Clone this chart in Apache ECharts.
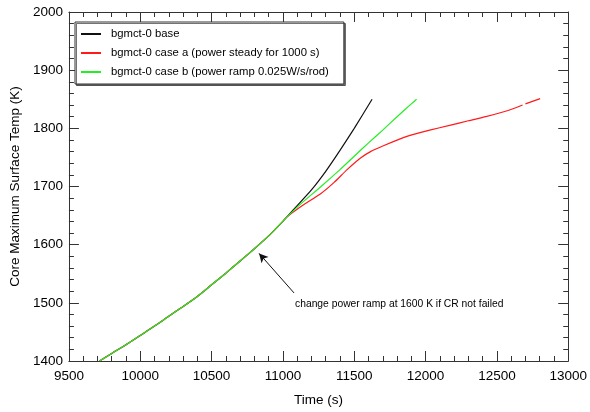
<!DOCTYPE html>
<html>
<head>
<meta charset="utf-8">
<script src="https://cdn.jsdelivr.net/npm/echarts@6/dist/echarts.min.js"></script>
<style>
html,body{margin:0;padding:0;background:#fff;}
#chart{width:590px;height:412px;}
</style>
</head>
<body>
<div id="chart"></div>
<script>
// Shared early part of all three runs (time s, temperature K)
var baseTime = [9715, 9800, 9900, 10000, 10100, 10200, 10290, 10400, 10500, 10600, 10700, 10800, 10900, 11000, 11025];
var baseTemp = [1400, 1413, 1428, 1444, 1460, 1477, 1492, 1511, 1531, 1551, 1572, 1593, 1615, 1640, 1647];

// bgmct-0 base
var baseCaseTime = [11100, 11200, 11300, 11400, 11500, 11625];
var baseCaseTemp = [1667, 1694, 1726, 1762, 1800, 1850];

// bgmct-0 case a
var caseATime = [11129, 11267, 11359, 11450, 11544, 11614, 11704, 11844, 11891, 12029, 12168, 12300, 12422, 12584, 12680, 12690, 12700, 12803];
var caseATemp = [1666, 1688, 1707, 1729, 1749, 1760, 1770, 1784, 1788, 1797, 1805, 1813, 1820, 1831, 1840, null, 1842, 1851];

// bgmct-0 case b
var caseBTime = [11129, 11267, 11400, 11500, 11600, 11700, 11800, 11900, 11937];
var caseBTemp = [1671, 1700, 1729, 1752, 1775, 1797, 1820, 1842, 1850];

var seriesNames = ['bgmct-0 base', 'bgmct-0 case a (power steady for 1000 s)', 'bgmct-0 case b (power ramp 0.025W/s/rod)'];
var seriesColors = ['#111111', '#ff1a1a', '#22ee22'];

var xTicks = { min: 9500, max: 13000, interval: 500 };
var yTicks = { min: 1400, max: 2000, interval: 100 };

// annotation arrow: tail -> head (data coords)
var arrowTail = [11078, 1517];
var arrowHead = [10833, 1585];
var annotationText = 'change power ramp at 1600 K if CR not failed';

function pairs(t, v) {
  var out = [];
  for (var i = 0; i < t.length; i++) out.push([t[i], v[i] === null ? '-' : v[i]]);
  return out;
}
function withBase(t, v) {
  return pairs(baseTime, baseTemp).concat(pairs(t, v));
}

var FONT = '"Liberation Sans", Arial, Helvetica, sans-serif';
var axisCol = '#333';
function plain(v) { return String(v); }

function xAxisDef(pos, show) {
  return {
    type: 'value', position: pos, min: xTicks.min, max: xTicks.max, interval: xTicks.interval,
    name: show ? 'Time (s)' : '', nameLocation: 'middle', nameGap: 32,
    nameTextStyle: { fontFamily: FONT, fontSize: 13.5, color: '#000' },
    axisLine: { show: true, lineStyle: { color: axisCol, width: 1 } },
    axisTick: { show: true, inside: true, length: 10, lineStyle: { color: axisCol } },
    minorTick: { show: true, splitNumber: 5, length: 5, lineStyle: { color: axisCol } },
    axisLabel: { show: show, margin: 8, fontFamily: FONT, fontSize: 13.5, color: '#000', formatter: plain },
    splitLine: { show: false }
  };
}
function yAxisDef(pos, show) {
  return {
    type: 'value', position: pos, min: yTicks.min, max: yTicks.max, interval: yTicks.interval,
    name: show ? 'Core Maximum Surface Temp (K)' : '', nameLocation: 'middle', nameGap: 42,
    nameTextStyle: { fontFamily: FONT, fontSize: 13.5, color: '#000' },
    axisLine: { show: true, lineStyle: { color: axisCol, width: 1 } },
    axisTick: { show: true, inside: true, length: 10, lineStyle: { color: axisCol } },
    minorTick: { show: true, splitNumber: 5, length: 5, lineStyle: { color: axisCol } },
    axisLabel: { show: show, margin: 6, fontFamily: FONT, fontSize: 13.5, color: '#000', formatter: plain },
    splitLine: { show: false }
  };
}

function lineSeries(i, data) {
  return {
    name: seriesNames[i], type: 'line', data: data, xAxisIndex: 0, yAxisIndex: 0,
    symbol: 'none', showSymbol: false, smooth: 0.2, connectNulls: false,
    lineStyle: { color: seriesColors[i], width: 1.2 },
    itemStyle: { color: seriesColors[i] },
    emphasis: { disabled: true }
  };
}

var s0 = lineSeries(0, withBase(baseCaseTime, baseCaseTemp));
s0.markLine = {
  silent: true, animation: false,
  symbol: ['none', 'arrow'], symbolSize: [7, 9],
  label: { show: false },
  lineStyle: { color: '#111', width: 1, type: 'solid' },
  data: [[{ coord: arrowTail }, { coord: arrowHead }]]
};

var chart = echarts.init(document.getElementById('chart'), null, { renderer: 'canvas' });
chart.setOption({
  animation: false,
  backgroundColor: '#fff',
  grid: { left: 65, right: 20, top: 12, bottom: 46, containLabel: false },
  xAxis: [xAxisDef('bottom', true), xAxisDef('top', false)],
  yAxis: [yAxisDef('left', true), yAxisDef('right', false)],
  legend: {
    orient: 'vertical', left: 75, top: 22,
    padding: [5, 15, 5, 5], itemGap: 5, itemWidth: 20, itemHeight: 14,
    backgroundColor: '#fff', borderColor: '#333', borderWidth: 1,
    shadowColor: 'rgba(0,0,0,0.55)', shadowOffsetX: 1.5, shadowOffsetY: 1.5, shadowBlur: 0,
    itemStyle: { opacity: 0 },
    textStyle: { fontFamily: FONT, fontSize: 11.3, lineHeight: 14, color: '#000', padding: [0, 0, 0, 5] },
    data: seriesNames, selectedMode: false
  },
  series: [
    s0,
    lineSeries(1, withBase(caseATime, caseATemp)),
    lineSeries(2, withBase(caseBTime, caseBTemp))
  ]
});

var tail = chart.convertToPixel({ xAxisIndex: 0, yAxisIndex: 0 }, arrowTail);
chart.setOption({
  graphic: [{
    type: 'text', left: tail[0] + 1, top: tail[1] + 6,
    style: { text: annotationText, font: '10.3px ' + FONT, fill: '#000' }
  }]
});
</script>
</body>
</html>
